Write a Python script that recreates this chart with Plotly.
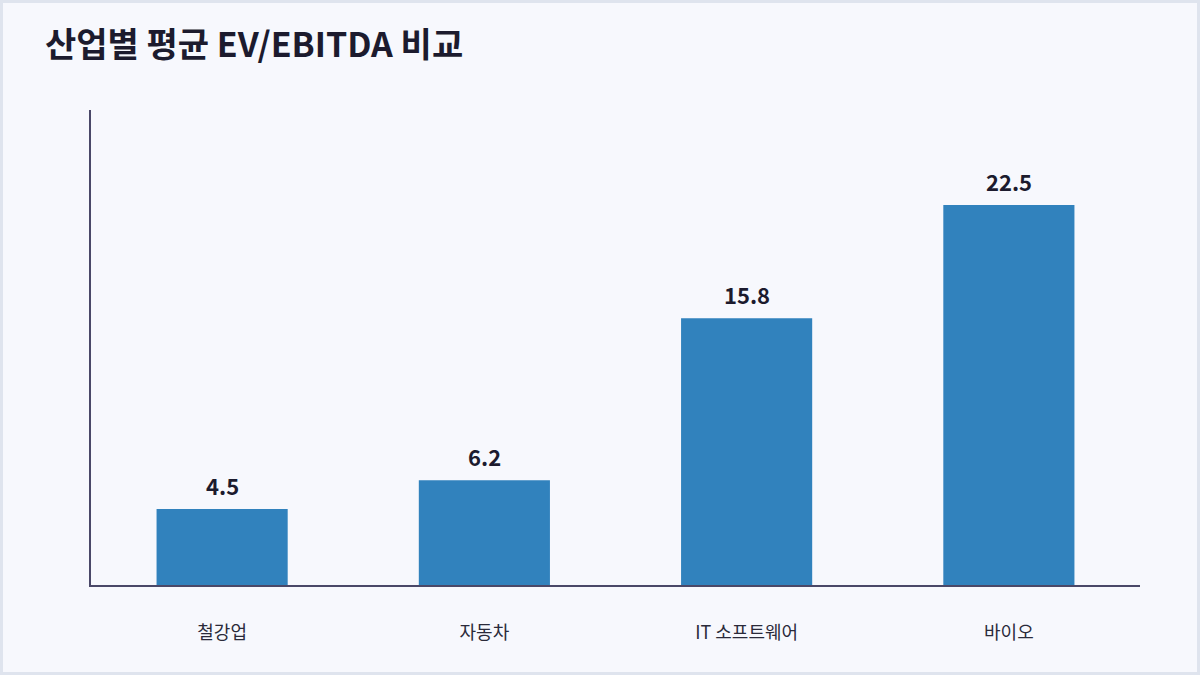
import plotly.graph_objects as go

categories = ["철강업", "자동차", "IT 소프트웨어", "바이오"]
values = [4.5, 6.2, 15.8, 22.5]
value_labels = ["4.5", "6.2", "15.8", "22.5"]

W, H = 1200, 675
L, R, T, B = 91, 60, 110, 90
pw, ph = W - L - R, H - T - B

font = "Noto Sans CJK KR"
dark = "#1c1b2e"
axis_c = "#4a4868"

fig = go.Figure()
fig.add_trace(go.Bar(
    x=categories, y=values,
    marker=dict(color="#3182bd", line=dict(width=0)),
    hoverinfo="skip",
))

for c, v, t in zip(categories, values, value_labels):
    fig.add_annotation(x=c, y=v, text=f"<b>{t}</b>", showarrow=False,
                       yanchor="bottom", yshift=6,
                       font=dict(family=font, size=22, color=dark))

# outer border
fig.add_shape(type="rect", xref="paper", yref="paper",
              x0=(-L + 1.5) / pw, x1=1 + (R - 1.5) / pw,
              y0=(-B + 1.5) / ph, y1=1 + (T - 1.5) / ph,
              line=dict(color="#dfe4ee", width=3), layer="below")

fig.update_layout(
    width=W, height=H,
    margin=dict(l=L, r=R, t=T, b=B),
    paper_bgcolor="#f7f8fd",
    plot_bgcolor="#f7f8fd",
    bargap=0.5,
    showlegend=False,
    title=dict(text="<b>산업별 평균 EV/EBITDA 비교</b>", x=45 / W, xanchor="left",
               y=1 - 45 / H, yanchor="middle",
               font=dict(family=font, size=34, color=dark)),
    font=dict(family=font),
)
fig.update_xaxes(showline=True, linecolor=axis_c, linewidth=2,
                 ticks="", ticklabelstandoff=30,
                 tickfont=dict(family=font, size=18, color="#2a2a3a"),
                 showgrid=False, zeroline=False)
fig.update_yaxes(range=[0, 28.125], showline=True, linecolor=axis_c, linewidth=2,
                 showticklabels=False, ticks="", showgrid=False, zeroline=False)

fig.write_html("out.html", config={"displayModeBar": False},
               post_script="document.body.style.margin='0';document.body.style.overflow='hidden';")
